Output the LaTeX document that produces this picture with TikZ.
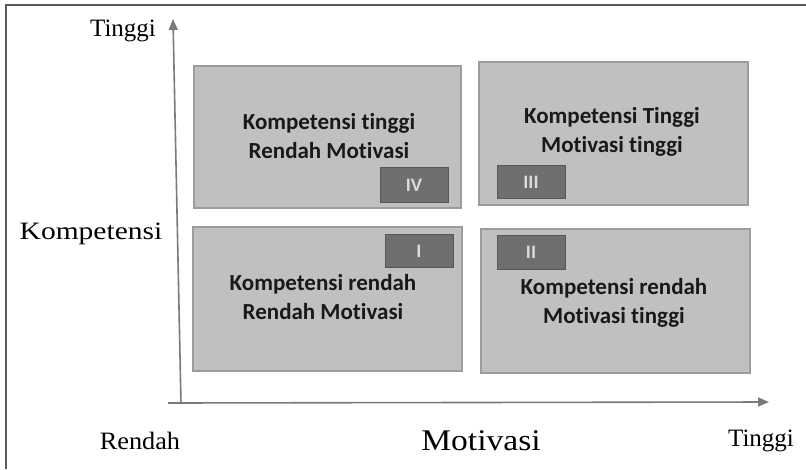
\documentclass[tikz,border=0pt]{standalone}
\usepackage{fontspec}
\setmainfont{Liberation Serif}
\newfontfamily\boxfont[Ligatures={NoCommon}]{Carlito}
\usetikzlibrary{arrows.meta}
\definecolor{quadfill}{HTML}{C0C0C0}
\definecolor{quadline}{HTML}{9C9C9C}
\definecolor{badgefill}{HTML}{6F6F6F}
\definecolor{badgeline}{HTML}{575757}
\definecolor{badgetext}{HTML}{DCDCDC}
\definecolor{axisgray}{HTML}{7A7A7A}
\definecolor{framegray}{HTML}{5A5A5A}
\begin{document}
\begin{tikzpicture}[x=1pt,y=-1pt,
  quad/.style={draw=quadline,fill=quadfill,line width=1.3pt},
  badge/.style={draw=badgeline,fill=badgefill,line width=1pt},
  badgelabel/.style={text=badgetext,font=\boxfont\bfseries\fontsize{19}{19}\selectfont},
  quadlabel/.style={align=center,font=\boxfont\bfseries\fontsize{23}{29}\selectfont,text=black!90},
  axislabel/.style={font=\fontsize{25}{25}\selectfont,text=black},
  axis/.style={draw=axisgray,line width=1.6pt},
  tip/.style={-{Triangle[length=11pt,width=9pt]}}]
\useasboundingbox (0,0) rectangle (806,469);
\fill[white] (0,0) rectangle (806,469);
% frame edges
\draw[framegray,line width=1.6pt] (6,469) -- (6,5) -- (806,5);

% quadrants
\draw[quad] (194,66) rectangle (461,208);
\draw[quad] (479,62) rectangle (748,205);
\draw[quad] (193,227) rectangle (462,371);
\draw[quad] (481,229) rectangle (750,373);

% quadrant captions
\node[quadlabel] (qIV) at (329,136) {Kompetensi tinggi\\Rendah Motivasi};
\node[quadlabel] (qIII) at (612,132) {Kompetensi Tinggi\\Motivasi tinggi};
\node[quadlabel] (qI) at (323,297) {Kompetensi rendah\\Rendah Motivasi};
\node[quadlabel] (qII) at (614,303) {Kompetensi rendah\\Motivasi tinggi};

% numbered badges
\draw[badge] (380,167) rectangle (448,202);
\node[badgelabel] (bIV) at (414,185) {IV};
\draw[badge] (497,165) rectangle (565,198);
\node[badgelabel] (bIII) at (531,182) {III};
\draw[badge] (385,234) rectangle (453,267);
\node[badgelabel] (bI) at (419,251) {I};
\draw[badge] (497,235) rectangle (565,269);
\node[badgelabel] (bII) at (531,252) {II};

% axes
\coordinate (origin) at (181,404);
\coordinate (ytop) at (173,19);
\coordinate (xstart) at (168,403);
\coordinate (xend) at (769,402);
\draw[axis,tip] (origin) -- (ytop);
\draw[axis,tip] (xstart) -- (xend);

% axis labels
\node[axislabel] (ytinggi) at (123,31) {Tinggi};
\node[axislabel] (ykomp) at (91,234) {\scalebox{1.18}[1]{Kompetensi}};
\node[axislabel] (xrendah) at (140,441) {\scalebox{1.05}[1]{Rendah}};
\node[font=\fontsize{30}{30}\selectfont,text=black] (xmot) at (481,441) {\scalebox{1.12}[1]{Motivasi}};
\node[axislabel] (xtinggi) at (761,441) {Tinggi};
\end{tikzpicture}
\end{document}
